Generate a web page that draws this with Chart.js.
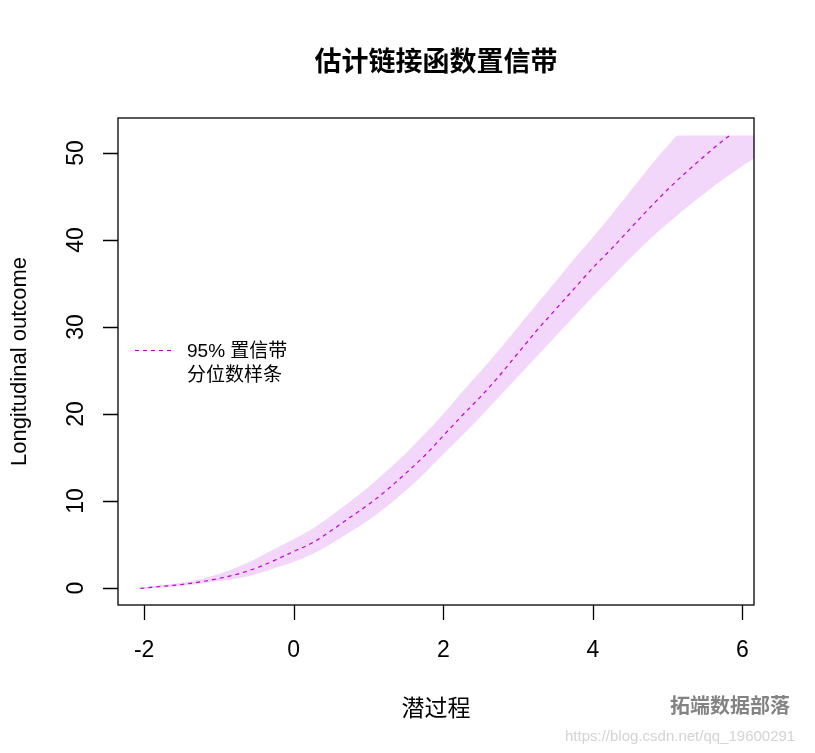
<!DOCTYPE html>
<html><head><meta charset="utf-8">
<script src="https://cdn.jsdelivr.net/npm/chart.js@4.4.1/dist/chart.umd.min.js"></script>
<style>html,body{margin:0;padding:0;background:#fff;}#wrap{width:815px;height:753px;}</style>
</head><body><div id="wrap"><canvas id="c" width="815" height="753"></canvas></div>
<script>
const chartTitle = '估计链接函数置信带';
const xAxisTitle = '潜过程';
const yAxisTitle = 'Longitudinal outcome';
const legendLabels = ['95% 置信带', '分位数样条'];
const xTicks = [-2, 0, 2, 4, 6];
const yTicks = [0, 10, 20, 30, 40, 50];

const bandX = [-2.15,-2,-1.75,-1.5,-1.25,-1,-0.75,-0.5,-0.25,0,0.25,0.5,0.75,1,1.25,1.5,1.75,2,2.25,2.5,2.75,3,3.25,3.5,3.75,4,4.25,4.5,4.75,5,5.15,5.25,5.5,5.75,6,6.16];
const bandUpper = [-0.05,0.1,0.35,0.6,1.0,1.6,2.4,3.4,4.5,5.6,6.8,8.3,9.9,11.6,13.5,15.5,17.7,20.0,22.5,24.9,27.4,30.0,32.6,35.2,37.8,40.3,42.9,45.6,48.3,50.8,52,52,52,52,52,52];
const bandLower = [-0.05,-0.1,0.05,0.25,0.5,0.8,1.1,1.6,2.3,3.0,3.9,5.1,6.4,7.8,9.4,11.2,13.2,15.4,17.5,19.7,22.0,24.3,26.6,28.9,31.2,33.5,35.7,37.9,40.0,41.9,43.0,43.7,45.4,47.0,48.5,49.4];

const splineX = [-2.05,-2,-1.75,-1.5,-1.25,-1,-0.75,-0.5,-0.25,0,0.25,0.5,0.75,1,1.25,1.5,1.75,2,2.25,2.5,2.75,3,3.25,3.5,3.75,4,4.25,4.5,4.75,5,5.25,5.5,5.75,5.83];
const splineY = [-0.05,0,0.2,0.4,0.7,1.1,1.6,2.3,3.2,4.2,5.2,6.6,8.1,9.6,11.3,13.2,15.2,17.5,19.8,22.0,24.4,27.0,29.6,32.0,34.4,36.8,39.0,41.3,43.6,45.8,47.8,49.7,51.5,52];

const bandColor = 'rgb(243,215,251)';
const lineColor = '#c200d2';
const numFont = '"Liberation Sans", Arial, "Noto Sans CJK SC", sans-serif';
const cjkFont = '"Liberation Sans", "Noto Sans CJK SC", sans-serif';

const pts = (xs, ys) => xs.map((x, i) => ({x: x, y: ys[i]}));

const decor = {
  id: 'decor',
  afterDraw(chart) {
    const ctx = chart.ctx;
    const a = chart.chartArea;
    const xs = chart.scales.x, ys = chart.scales.y;
    ctx.save();
    ctx.strokeStyle = '#000';
    ctx.lineWidth = 1.3;
    ctx.strokeRect(a.left, a.top, a.right - a.left, a.bottom - a.top);
    ctx.beginPath();
    xTicks.forEach(v => { const p = Math.round(xs.getPixelForValue(v)) + 0.5; ctx.moveTo(p, a.bottom); ctx.lineTo(p, a.bottom + 15); });
    yTicks.forEach(v => { const p = Math.round(ys.getPixelForValue(v)) + 0.5; ctx.moveTo(a.left, p); ctx.lineTo(a.left - 15, p); });
    ctx.stroke();
    ctx.fillStyle = '#000';
    ctx.font = '23px ' + numFont;
    ctx.textAlign = 'center';
    ctx.textBaseline = 'middle';
    xTicks.forEach(v => { ctx.fillText(String(v), xs.getPixelForValue(v), 651); });
    yTicks.forEach(v => {
      ctx.save();
      ctx.translate(77, ys.getPixelForValue(v));
      ctx.rotate(-Math.PI / 2);
      ctx.fillText(String(v), 0, 0);
      ctx.restore();
    });
    ctx.font = 'bold 27px "Noto Sans CJK SC", sans-serif';
    ctx.fillText(chartTitle, (a.left + a.right) / 2, 61);
    ctx.strokeStyle = lineColor;
    ctx.lineWidth = 1.2;
    ctx.setLineDash([4, 4]);
    ctx.beginPath(); ctx.moveTo(135, 350.5); ctx.lineTo(171, 350.5); ctx.stroke();
    ctx.setLineDash([]);
    ctx.fillStyle = '#000';
    ctx.textAlign = 'left';
    ctx.font = '19px ' + cjkFont;
    ctx.fillText(legendLabels[0], 187, 352);
    ctx.fillText(legendLabels[1], 187, 376);
    ctx.font = 'bold 20px "Noto Sans CJK SC", sans-serif';
    ctx.fillStyle = 'rgba(90,90,90,0.75)';
    ctx.fillText('拓端数据部落', 670, 705);
    ctx.font = '15px ' + numFont;
    ctx.fillStyle = 'rgba(200,200,200,0.8)';
    ctx.fillText('https://blog.csdn.net/qq_19600291', 565, 737);
    ctx.restore();
  }
};

new Chart(document.getElementById('c'), {
  type: 'line',
  data: {
    datasets: [
      { label: 'upper', order: 2, data: pts(bandX, bandUpper), borderWidth: 0, borderColor: 'rgba(0,0,0,0)', backgroundColor: bandColor, fill: '+1', pointRadius: 0, cubicInterpolationMode: 'monotone' },
      { label: 'lower', order: 2, data: pts(bandX, bandLower), borderWidth: 0, borderColor: 'rgba(0,0,0,0)', backgroundColor: bandColor, fill: false, pointRadius: 0, cubicInterpolationMode: 'monotone' },
      { label: legendLabels[0], order: 0, data: pts(splineX, splineY), borderColor: lineColor, borderWidth: 1.2, borderDash: [4, 4], fill: false, pointRadius: 0, cubicInterpolationMode: 'monotone' }
    ]
  },
  options: {
    responsive: false,
    animation: false,
    events: [],
    layout: { padding: { left: 0, top: 118, right: 61, bottom: 0 } },
    plugins: { legend: { display: false }, title: { display: false }, tooltip: { enabled: false } },
    scales: {
      x: {
        type: 'linear', min: -2.35, max: 6.155,
        grid: { display: false }, border: { display: false },
        ticks: { display: false },
        title: { display: true, text: xAxisTitle, color: '#000', font: { size: 23, family: '"Noto Sans CJK SC", sans-serif' }, padding: { top: 0, bottom: 32 } },
        afterFit(s) { s.height = 148; }
      },
      y: {
        type: 'linear', min: -1.954, max: 54.02,
        grid: { display: false }, border: { display: false },
        ticks: { display: false },
        title: { display: true, text: yAxisTitle, color: '#000', font: { size: 22, family: numFont }, padding: { top: 7, bottom: 0 } },
        afterFit(s) { s.width = 118; }
      }
    }
  },
  plugins: [decor]
});
</script>
</body></html>
